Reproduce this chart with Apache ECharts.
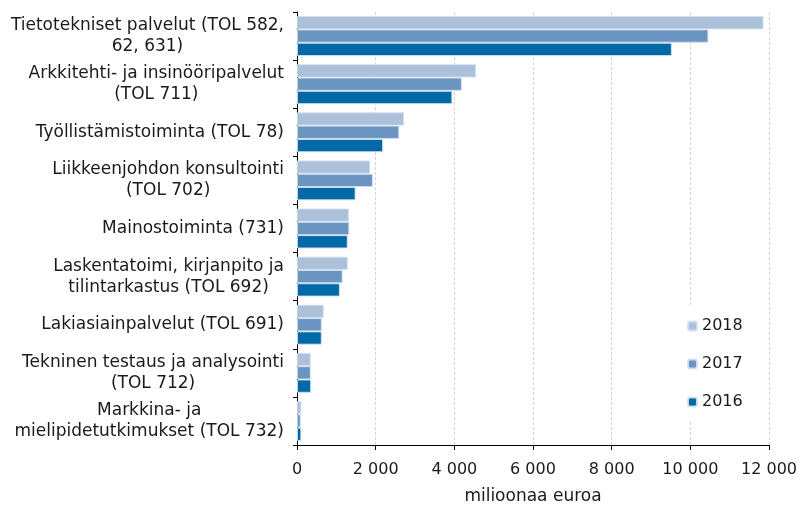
<!DOCTYPE html>
<html lang="fi">
<head>
    <meta charset="utf-8"/>
    <title>Palvelut</title>
    <script src="https://cdn.jsdelivr.net/npm/echarts@6/dist/echarts.min.js"></script>
</head>
<body style="margin:0;">
<div id="chart" style="width:800px;height:510px;"></div>
<script type="text/javascript">
    // toimialat, ylhäältä alas
    var categories = [
        "Tietotekniset palvelut (TOL 582,\n62, 631)",
        "Arkkitehti- ja insinööripalvelut\n(TOL 711)",
        "Työllistämistoiminta (TOL 78)",
        "Liikkeenjohdon konsultointi\n(TOL 702)",
        "Mainostoiminta (731)",
        "Laskentatoimi, kirjanpito ja\ntilintarkastus (TOL 692)",
        "Lakiasiainpalvelut (TOL 691)",
        "Tekninen testaus ja analysointi\n(TOL 712)",
        "Markkina- ja\nmielipidetutkimukset (TOL 732)"
    ];
    var years = ["2018", "2017", "2016"];
    var v2018 = [11860, 4550, 2720, 1860, 1320, 1290, 680, 350, 110];
    var v2017 = [10460, 4190, 2600, 1930, 1330, 1160, 630, 350, 95];
    var v2016 = [9530, 3950, 2190, 1490, 1290, 1090, 630, 360, 110];
    var xTicks = [0, 2000, 4000, 6000, 8000, 10000, 12000];

    var colors = ['#adc0d9', '#6a94c2', '#0069a6'];
    var chart = echarts.init(document.getElementById('chart'));

    function fmt(v) {
        // välilyönti tuhaterottimena
        return String(v).replace(/\B(?=(\d{3})+(?!\d))/g, ' ');
    }

    var values = [v2018, v2017, v2016];
    var series = years.map(function (y, i) {
        return {
            name: y,
            type: 'bar',
            data: values[i],
            barGap: '0%',
            barCategoryGap: '17%',
            itemStyle: {color: colors[i], borderColor: 'rgba(210,225,240,0.9)', borderWidth: 1}
        };
    });

    chart.setOption({
        animation: false,
        textStyle: {fontFamily: 'DejaVu Sans, sans-serif'},
        grid: {left: 297, right: 31, top: 12, bottom: 65},
        legend: {
            orient: 'vertical',
            left: 680, top: 306,
            padding: [12, 12, 12, 7],
            backgroundColor: '#fff',
            itemWidth: 9, itemHeight: 9,
            itemGap: 22,
            data: years,
            textStyle: {fontSize: 16, color: '#1a1a1a'}
        },
        xAxis: {
            type: 'value',
            min: xTicks[0],
            max: xTicks[xTicks.length - 1],
            interval: 2000,
            name: 'milioonaa euroa',
            nameLocation: 'middle',
            nameGap: 43,
            nameTextStyle: {fontSize: 17, color: '#1a1a1a'},
            axisLine: {show: true, lineStyle: {color: '#000', width: 1}},
            axisTick: {show: true, length: 5, lineStyle: {color: '#000'}},
            axisLabel: {fontSize: 16, color: '#1a1a1a', margin: 17, formatter: fmt},
            splitLine: {show: true, lineStyle: {color: '#d4d4d4', type: [3, 2]}}
        },
        yAxis: {
            type: 'category',
            inverse: true,
            data: categories,
            axisLine: {show: true, lineStyle: {color: '#000', width: 1}},
            axisTick: {show: true, length: 4, lineStyle: {color: '#000'}},
            axisLabel: {
                fontSize: 17, color: '#1a1a1a', margin: 13,
                align: 'right',
                formatter: function (s) {
                    return s.split('\n').map(function (l) { return '{c|' + l + '}'; }).join('\n');
                },
                rich: {c: {align: 'center', fontSize: 17, lineHeight: 21, color: '#1a1a1a'}}
            }
        },
        series: series
    });
</script>
</body>
</html>
